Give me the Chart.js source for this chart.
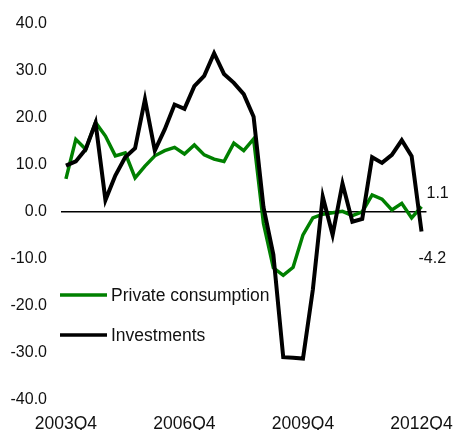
<!DOCTYPE html>
<html>
<head>
<meta charset="utf-8">
<script src="https://cdn.jsdelivr.net/npm/chart.js@4/dist/chart.umd.min.js"></script>
<style>
    html, body { margin: 0; padding: 0; background: #fff; }
    #wrap { width: 459px; height: 430px; }
</style>
</head>
<body>
<div id="wrap"><canvas id="growthChart" width="459" height="430"></canvas></div>
<script>
// Quarters, 2003Q4 .. 2012Q4
const quarters = [
    '2003Q4',
    '2004Q1', '2004Q2', '2004Q3', '2004Q4',
    '2005Q1', '2005Q2', '2005Q3', '2005Q4',
    '2006Q1', '2006Q2', '2006Q3', '2006Q4',
    '2007Q1', '2007Q2', '2007Q3', '2007Q4',
    '2008Q1', '2008Q2', '2008Q3', '2008Q4',
    '2009Q1', '2009Q2', '2009Q3', '2009Q4',
    '2010Q1', '2010Q2', '2010Q3', '2010Q4',
    '2011Q1', '2011Q2', '2011Q3', '2011Q4',
    '2012Q1', '2012Q2', '2012Q3', '2012Q4'
];

// Only these quarters get an axis label
const shownQuarters = ['2003Q4', '2006Q4', '2009Q4', '2012Q4'];

// y % change
const privateConsumption = [
    7.0, 15.4, 13.3, 19.0, 16.1, 11.9, 12.5, 7.2, 9.7,
    11.9, 13.0, 13.7, 12.3, 14.2, 12.1, 11.2, 10.7,
    14.6, 13.0, 15.5, -2.5, -11.9, -13.5, -11.8, -4.9,
    -1.3, -0.5, -0.2, 0.1, -0.8, 0.0, 3.6, 2.7,
    0.4, 1.8, -1.3, 1.1
];

const investments = [
    9.8, 10.7, 13.3, 18.9, 2.5, 7.7, 11.6, 13.5, 23.9,
    13.0, 17.5, 22.8, 21.9, 26.7, 28.9, 33.7, 29.3,
    27.4, 25.0, 20.2, 1.0, -9.1, -30.9, -31.0, -31.2,
    -16.5, 3.2, -4.9, 6.0, -2.1, -1.5, 11.6, 10.4,
    12.1, 15.2, 11.8, -4.2
];

const yTicks = [-40, -30, -20, -10, 0, 10, 20, 30, 40];

const GREEN = '#008000';
const BLACK = '#000000';
const FONT = '"Liberation Sans", Arial, Helvetica, sans-serif';

// Legend drawn inside the plot, lower left
const innerLegend = {
    id: 'innerLegend',
    afterDatasetsDraw(chart) {
        const ctx = chart.ctx;
        const area = chart.chartArea;
        const items = [
            { label: 'Private consumption', color: GREEN, y: 295 },
            { label: 'Investments', color: BLACK, y: 335 }
        ];
        ctx.save();
        ctx.font = '17.5px ' + FONT;
        ctx.textBaseline = 'middle';
        ctx.textAlign = 'left';
        items.forEach(it => {
            ctx.strokeStyle = it.color;
            ctx.lineWidth = 3.5;
            ctx.beginPath();
            ctx.moveTo(area.left - 1, it.y);
            ctx.lineTo(area.left + 46, it.y);
            ctx.stroke();
            ctx.fillStyle = '#111';
            ctx.fillText(it.label, area.left + 50, it.y + 1);
        });
        ctx.restore();
    }
};

// Last-value labels at the right end of each line
const endLabels = {
    id: 'endLabels',
    afterDatasetsDraw(chart) {
        const ctx = chart.ctx;
        const yScale = chart.scales.y;
        const xScale = chart.scales.x;
        const last = quarters.length - 1;
        const xLast = xScale.getPixelForValue(last);
        ctx.save();
        ctx.font = '16px ' + FONT;
        ctx.fillStyle = '#111';
        ctx.textBaseline = 'middle';
        ctx.textAlign = 'left';
        const pc = privateConsumption[last];
        ctx.fillText(pc.toFixed(1), xLast + 5, yScale.getPixelForValue(pc) - 13);
        const inv = investments[last];
        ctx.fillText(inv.toFixed(1), xLast - 3, yScale.getPixelForValue(inv) + 27);
        ctx.restore();
    }
};

new Chart(document.getElementById('growthChart'), {
    type: 'line',
    data: {
        labels: quarters,
        datasets: [
            {
                label: 'Investments',
                data: investments,
                borderColor: BLACK,
                borderWidth: 4,
                pointRadius: 0,
                tension: 0,
                order: 0
            },
            {
                label: 'Private consumption',
                data: privateConsumption,
                borderColor: GREEN,
                borderWidth: 3.5,
                pointRadius: 0,
                tension: 0,
                order: 1
            }
        ]
    },
    options: {
        responsive: false,
        devicePixelRatio: 1,
        animation: false,
        layout: {
            autoPadding: false,
            padding: { left: 0, top: 20, right: 26, bottom: 0 }
        },
        plugins: {
            legend: { display: false },
            tooltip: { enabled: false }
        },
        scales: {
            x: {
                type: 'category',
                offset: true,
                grid: { display: false },
                border: { display: false },
                afterFit: s => { s.height = 30; },
                ticks: {
                    autoSkip: false,
                    maxRotation: 0,
                    padding: 6,
                    color: '#111',
                    font: { family: FONT, size: 17.5 },
                    callback: function (v) {
                        const q = this.getLabelForValue(v);
                        return shownQuarters.includes(q) ? q : '';
                    }
                }
            },
            y: {
                min: -40,
                max: 40,
                afterFit: s => { s.width = 61; },
                afterBuildTicks: s => { s.ticks = yTicks.map(v => ({ value: v })); },
                border: { display: false },
                grid: {
                    drawTicks: false,
                    lineWidth: 1.5,
                    color: c => (c.tick && c.tick.value === 0 ? '#000' : 'rgba(0,0,0,0)')
                },
                ticks: {
                    padding: 14,
                    color: '#111',
                    font: { family: FONT, size: 16 },
                    callback: v => v.toFixed(1)
                }
            }
        }
    },
    plugins: [innerLegend, endLabels]
});
</script>
</body>
</html>
